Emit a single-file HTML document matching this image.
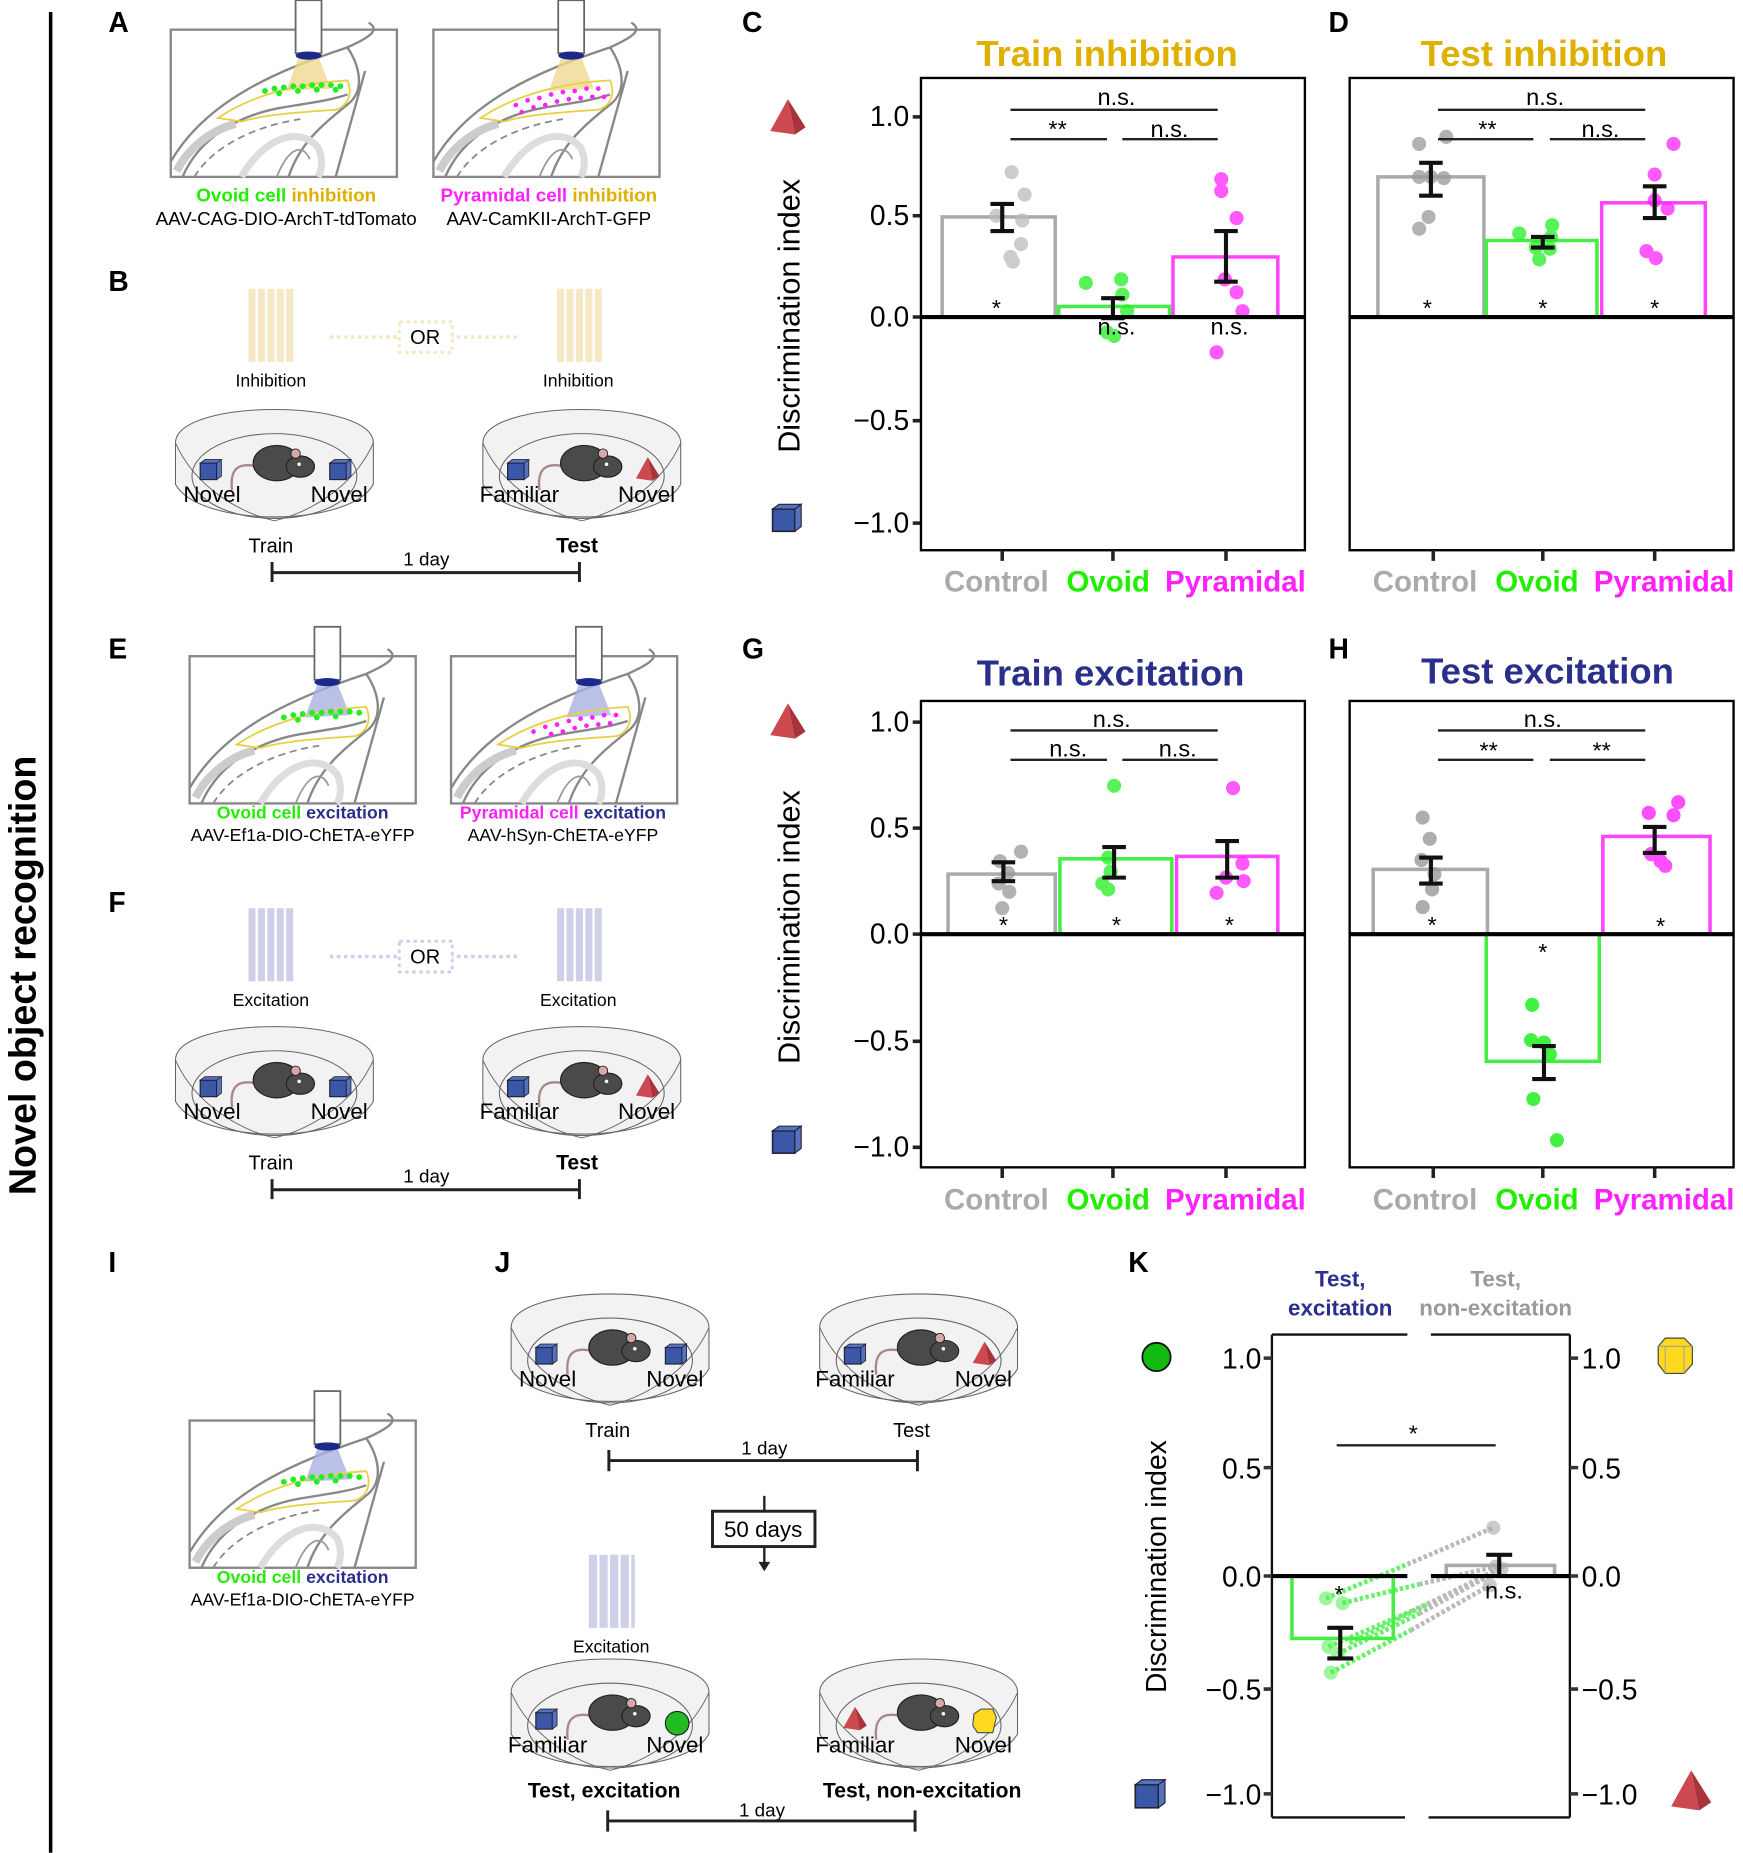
<!DOCTYPE html>
<html><head><meta charset="utf-8"><style>
html,body{margin:0;padding:0;background:#fff}
svg{display:block}
text{font-family:"Liberation Sans",sans-serif}
</style></head><body>
<svg width="1743" height="1853" viewBox="0 0 1480 1573" xmlns="http://www.w3.org/2000/svg">
<defs>
<g id="arena">
 <path d="M2,30 C2,-8 170,-8 170,30 L170,65 C150,102 22,102 2,65 Z" fill="#f2f2f2" stroke="#666" stroke-width="0.9"/>
 <ellipse cx="86" cy="58" rx="70" ry="36" fill="none" stroke="#666" stroke-width="0.9"/>
 <path d="M2,30 C20,70 60,90 86,96 M170,30 C152,70 112,90 86,96" fill="none" stroke="#666" stroke-width="0.8"/>
 <path d="M72,50 C55,46 48,52 50,70" fill="none" stroke="#a88" stroke-width="2"/>
 <ellipse cx="88" cy="47" rx="20" ry="15" fill="#4a4a4a" stroke="#222"/>
 <ellipse cx="108" cy="50" rx="12" ry="9" fill="#4a4a4a" stroke="#222"/>
 <circle cx="104" cy="39" r="4" fill="#d9a7a7" stroke="#222" stroke-width="0.8"/>
 <circle cx="107" cy="48" r="1.5" fill="#fff"/>
</g>
<g id="cube"><rect x="0" y="3" width="14" height="14" fill="#3b58a8" stroke="#223"/><path d="M0,3 L4,0 L18,0 L14,3 Z M14,3 L18,0 L18,14 L14,17 Z" fill="#5572c0" stroke="#223" stroke-width="0.7"/></g>
<g id="pyr"><path d="M10,0 L0,18 L14,20 Z" fill="#cc4a4f"/><path d="M10,0 L14,20 L20,16 Z" fill="#a8333a"/></g>
<g id="brain">
 <rect x="0" y="0" width="192" height="125" fill="#fff" stroke="#888" stroke-width="2"/>
 <path d="M0,112 C30,60 90,35 150,15 C170,6 178,0 168,-6" fill="none" stroke="#888" stroke-width="2"/>
 <path d="M150,15 C160,30 165,50 152,62 C130,80 110,95 100,125" fill="none" stroke="#888" stroke-width="2"/>
 <path d="M10,125 C25,90 60,72 95,66 C120,62 135,60 150,55" fill="none" stroke="#888" stroke-width="2"/>
 <path d="M20,125 C35,100 70,82 110,76" fill="none" stroke="#888" stroke-width="1.5" stroke-dasharray="6,4"/>
 <path d="M5,120 C15,100 35,85 55,80" fill="none" stroke="#ccc" stroke-width="7"/>
 <path d="M60,125 C80,90 110,82 125,100 C130,110 128,120 125,125" fill="none" stroke="#ddd" stroke-width="6"/>
 <path d="M90,125 C100,100 112,96 118,110" fill="none" stroke="#999" stroke-width="1.5"/>
 <path d="M165,35 C158,60 150,90 140,125" fill="none" stroke="#888" stroke-width="2"/>
</g>
</defs>

<line x1="43" y1="10" x2="43" y2="1573" stroke="#000" stroke-width="3"/>
<text transform="translate(30,828) rotate(-90)" text-anchor="middle" font-size="32" font-weight="bold">Novel object recognition</text>

<g font-size="24" font-weight="bold">
<text x="92" y="27">A</text><text x="92" y="247">B</text><text x="630" y="27">C</text><text x="1128" y="27">D</text>
<text x="92" y="559">E</text><text x="92" y="774">F</text><text x="630" y="559">G</text><text x="1128" y="559">H</text>
<text x="92" y="1080">I</text><text x="420" y="1080">J</text><text x="958" y="1080">K</text>
</g>

<g transform="translate(145,25)"><use href="#brain"/>
 <path d="M109,22 L125,22 L136,50 L98,52 Z" fill="#f0d890" opacity="0.8"/>
 <rect x="106" y="-25" width="22" height="45" fill="#fff" stroke="#666" stroke-width="1.5"/>
 <ellipse cx="117" cy="22" rx="11" ry="3.5" fill="#1a2a8a"/>
 <path d="M40,75 C70,55 110,45 150,43 C155,55 150,65 140,68 C110,70 80,72 60,78 Z" fill="none" stroke="#e8d040" stroke-width="1.5"/>
 <g fill="#22ee22"><circle cx="80" cy="52" r="2.5"/><circle cx="88" cy="50" r="2.5"/><circle cx="96" cy="49" r="2.5"/><circle cx="104" cy="48" r="2.5"/><circle cx="112" cy="48" r="2.5"/><circle cx="120" cy="47" r="2.5"/><circle cx="128" cy="47" r="2.5"/><circle cx="136" cy="47" r="2.5"/><circle cx="144" cy="48" r="2.5"/><circle cx="92" cy="54" r="2.5"/><circle cx="108" cy="52" r="2.5"/><circle cx="124" cy="51" r="2.5"/><circle cx="140" cy="51" r="2.5"/></g>
</g>
<g transform="translate(368,25)"><use href="#brain"/>
 <path d="M109,22 L125,22 L136,50 L98,52 Z" fill="#f0d890" opacity="0.8"/>
 <rect x="106" y="-25" width="22" height="45" fill="#fff" stroke="#666" stroke-width="1.5"/>
 <ellipse cx="117" cy="22" rx="11" ry="3.5" fill="#1a2a8a"/>
 <path d="M40,75 C70,55 110,45 150,43 C155,55 150,65 140,68 C110,70 80,72 60,78 Z" fill="none" stroke="#e8d040" stroke-width="1.5"/>
 <g fill="#ff22ff"><circle cx="70" cy="64" r="2"/><circle cx="80" cy="60" r="2"/><circle cx="90" cy="58" r="2"/><circle cx="100" cy="55" r="2"/><circle cx="110" cy="53" r="2"/><circle cx="120" cy="52" r="2"/><circle cx="130" cy="50" r="2"/><circle cx="140" cy="50" r="2"/><circle cx="85" cy="66" r="2"/><circle cx="95" cy="64" r="2"/><circle cx="105" cy="61" r="2"/><circle cx="115" cy="59" r="2"/><circle cx="125" cy="58" r="2"/><circle cx="135" cy="57" r="2"/><circle cx="145" cy="57" r="2"/><circle cx="75" cy="70" r="2"/></g>
</g>
<g font-size="16" text-anchor="middle">
<text x="243" y="171" font-weight="bold"><tspan fill="#22ee00">Ovoid cell</tspan> <tspan fill="#e0b000">inhibition</tspan></text>
<text x="243" y="191">AAV-CAG-DIO-ArchT-tdTomato</text>
<text x="466" y="171" font-weight="bold"><tspan fill="#ff22ff">Pyramidal cell</tspan> <tspan fill="#e0b000">inhibition</tspan></text>
<text x="466" y="191">AAV-CamKII-ArchT-GFP</text>
</g>

<g fill="#f5e8c4">
<rect x="211" y="245" width="6" height="62"/><rect x="219" y="245" width="6" height="62"/><rect x="227" y="245" width="6" height="62"/><rect x="235" y="245" width="6" height="62"/><rect x="243" y="245" width="6" height="62"/>
<rect x="473" y="245" width="6" height="62"/><rect x="481" y="245" width="6" height="62"/><rect x="489" y="245" width="6" height="62"/><rect x="497" y="245" width="6" height="62"/><rect x="505" y="245" width="6" height="62"/>
</g>
<line x1="280" y1="286" x2="442" y2="286" stroke="#f5e8c4" stroke-width="3" stroke-dasharray="3,3"/>
<rect x="339" y="273" width="45" height="26" fill="#fff" stroke="#f5e8c4" stroke-width="2.5" stroke-dasharray="3,3"/>
<text x="361" y="292" font-size="17" text-anchor="middle">OR</text>
<text x="230" y="328" font-size="15" text-anchor="middle">Inhibition</text>
<text x="491" y="328" font-size="15" text-anchor="middle">Inhibition</text>
<use href="#arena" x="147" y="346"/><use href="#arena" x="408" y="346"/>
<use href="#cube" x="170" y="390"/><use href="#cube" x="280" y="390"/><use href="#cube" x="431" y="390"/><use href="#pyr" x="540" y="388"/>
<g font-size="19" text-anchor="middle"><text x="180" y="426">Novel</text><text x="288" y="426">Novel</text><text x="441" y="426">Familiar</text><text x="549" y="426">Novel</text></g>
<text x="230" y="469" font-size="17" text-anchor="middle">Train</text>
<text x="490" y="469" font-size="18" text-anchor="middle" font-weight="bold">Test</text>
<text x="362" y="480" font-size="16" text-anchor="middle">1 day</text>
<path d="M231,486 H492 M231,477 V494 M492,477 V494" stroke="#222" stroke-width="2.5" fill="none"/>

<g transform="translate(161,557)"><use href="#brain"/>
 <path d="M109,22 L125,22 L136,50 L98,52 Z" fill="#aab0e0" opacity="0.8"/>
 <rect x="106" y="-25" width="22" height="45" fill="#fff" stroke="#666" stroke-width="1.5"/>
 <ellipse cx="117" cy="22" rx="11" ry="3.5" fill="#1a2a8a"/>
 <path d="M40,75 C70,55 110,45 150,43 C155,55 150,65 140,68 C110,70 80,72 60,78 Z" fill="none" stroke="#e8d040" stroke-width="1.5"/>
 <g fill="#22ee22"><circle cx="80" cy="52" r="2.5"/><circle cx="88" cy="50" r="2.5"/><circle cx="96" cy="49" r="2.5"/><circle cx="104" cy="48" r="2.5"/><circle cx="112" cy="48" r="2.5"/><circle cx="120" cy="47" r="2.5"/><circle cx="128" cy="47" r="2.5"/><circle cx="136" cy="47" r="2.5"/><circle cx="144" cy="48" r="2.5"/><circle cx="92" cy="54" r="2.5"/><circle cx="108" cy="52" r="2.5"/><circle cx="124" cy="51" r="2.5"/></g>
</g>
<g transform="translate(383,557)"><use href="#brain"/>
 <path d="M109,22 L125,22 L136,50 L98,52 Z" fill="#aab0e0" opacity="0.8"/>
 <rect x="106" y="-25" width="22" height="45" fill="#fff" stroke="#666" stroke-width="1.5"/>
 <ellipse cx="117" cy="22" rx="11" ry="3.5" fill="#1a2a8a"/>
 <path d="M40,75 C70,55 110,45 150,43 C155,55 150,65 140,68 C110,70 80,72 60,78 Z" fill="none" stroke="#e8d040" stroke-width="1.5"/>
 <g fill="#ff22ff"><circle cx="70" cy="64" r="2"/><circle cx="80" cy="60" r="2"/><circle cx="90" cy="58" r="2"/><circle cx="100" cy="55" r="2"/><circle cx="110" cy="53" r="2"/><circle cx="120" cy="52" r="2"/><circle cx="130" cy="50" r="2"/><circle cx="140" cy="50" r="2"/><circle cx="85" cy="66" r="2"/><circle cx="95" cy="64" r="2"/><circle cx="105" cy="61" r="2"/><circle cx="115" cy="59" r="2"/><circle cx="125" cy="58" r="2"/><circle cx="135" cy="57" r="2"/></g>
</g>
<g font-size="15" text-anchor="middle">
<text x="257" y="695" font-weight="bold"><tspan fill="#22ee00">Ovoid cell</tspan> <tspan fill="#2b2f8c">excitation</tspan></text>
<text x="257" y="714">AAV-Ef1a-DIO-ChETA-eYFP</text>
<text x="478" y="695" font-weight="bold"><tspan fill="#ff22ff">Pyramidal cell</tspan> <tspan fill="#2b2f8c">excitation</tspan></text>
<text x="478" y="714">AAV-hSyn-ChETA-eYFP</text>
</g>

<g fill="#cfd0e8">
<rect x="211" y="771" width="6" height="62"/><rect x="219" y="771" width="6" height="62"/><rect x="227" y="771" width="6" height="62"/><rect x="235" y="771" width="6" height="62"/><rect x="243" y="771" width="6" height="62"/>
<rect x="473" y="771" width="6" height="62"/><rect x="481" y="771" width="6" height="62"/><rect x="489" y="771" width="6" height="62"/><rect x="497" y="771" width="6" height="62"/><rect x="505" y="771" width="6" height="62"/>
</g>
<line x1="280" y1="812" x2="442" y2="812" stroke="#cfd0e8" stroke-width="3" stroke-dasharray="3,3"/>
<rect x="339" y="799" width="45" height="26" fill="#fff" stroke="#cfd0e8" stroke-width="2.5" stroke-dasharray="3,3"/>
<text x="361" y="818" font-size="17" text-anchor="middle">OR</text>
<text x="230" y="854" font-size="15" text-anchor="middle">Excitation</text>
<text x="491" y="854" font-size="15" text-anchor="middle">Excitation</text>
<use href="#arena" x="147" y="870"/><use href="#arena" x="408" y="870"/>
<use href="#cube" x="170" y="914"/><use href="#cube" x="280" y="914"/><use href="#cube" x="431" y="914"/><use href="#pyr" x="540" y="912"/>
<g font-size="19" text-anchor="middle"><text x="180" y="950">Novel</text><text x="288" y="950">Novel</text><text x="441" y="950">Familiar</text><text x="549" y="950">Novel</text></g>
<text x="230" y="993" font-size="17" text-anchor="middle">Train</text>
<text x="490" y="993" font-size="18" text-anchor="middle" font-weight="bold">Test</text>
<text x="362" y="1004" font-size="16" text-anchor="middle">1 day</text>
<path d="M231,1010 H492 M231,1001 V1018 M492,1001 V1018" stroke="#222" stroke-width="2.5" fill="none"/>

<g transform="translate(161,1206)"><use href="#brain"/>
 <path d="M109,22 L125,22 L136,50 L98,52 Z" fill="#aab0e0" opacity="0.8"/>
 <rect x="106" y="-25" width="22" height="45" fill="#fff" stroke="#666" stroke-width="1.5"/>
 <ellipse cx="117" cy="22" rx="11" ry="3.5" fill="#1a2a8a"/>
 <path d="M40,75 C70,55 110,45 150,43 C155,55 150,65 140,68 C110,70 80,72 60,78 Z" fill="none" stroke="#e8d040" stroke-width="1.5"/>
 <g fill="#22ee22"><circle cx="80" cy="52" r="2.5"/><circle cx="88" cy="50" r="2.5"/><circle cx="96" cy="49" r="2.5"/><circle cx="104" cy="48" r="2.5"/><circle cx="112" cy="48" r="2.5"/><circle cx="120" cy="47" r="2.5"/><circle cx="128" cy="47" r="2.5"/><circle cx="136" cy="47" r="2.5"/><circle cx="144" cy="48" r="2.5"/><circle cx="92" cy="54" r="2.5"/><circle cx="108" cy="52" r="2.5"/><circle cx="124" cy="51" r="2.5"/></g>
</g>
<g font-size="15" text-anchor="middle">
<text x="257" y="1344" font-weight="bold"><tspan fill="#22ee00">Ovoid cell</tspan> <tspan fill="#2b2f8c">excitation</tspan></text>
<text x="257" y="1363">AAV-Ef1a-DIO-ChETA-eYFP</text>
</g>

<use href="#arena" x="432" y="1097"/><use href="#arena" x="694" y="1097"/>
<use href="#cube" x="455" y="1141"/><use href="#cube" x="565" y="1141"/><use href="#cube" x="717" y="1141"/><use href="#pyr" x="826" y="1139"/>
<g font-size="19" text-anchor="middle"><text x="465" y="1177">Novel</text><text x="573" y="1177">Novel</text><text x="726" y="1177">Familiar</text><text x="835" y="1177">Novel</text></g>
<text x="516" y="1220" font-size="17" text-anchor="middle">Train</text>
<text x="774" y="1220" font-size="17" text-anchor="middle">Test</text>
<text x="649" y="1235" font-size="16" text-anchor="middle">1 day</text>
<path d="M517,1240 H779 M517,1231 V1249 M779,1231 V1249" stroke="#222" stroke-width="2.5" fill="none"/>
<path d="M649,1270 V1328" stroke="#222" stroke-width="2"/><path d="M644,1326 L654,1326 L649,1334 Z" fill="#222"/>
<rect x="605" y="1283" width="87" height="30" fill="#fff" stroke="#222" stroke-width="2.5"/>
<text x="648" y="1305" font-size="19" text-anchor="middle">50 days</text>
<g fill="#cfd0e8"><rect x="500" y="1320" width="7" height="62"/><rect x="509" y="1320" width="7" height="62"/><rect x="518" y="1320" width="7" height="62"/><rect x="527" y="1320" width="7" height="62"/><rect x="536" y="1320" width="3" height="62"/></g>
<text x="519" y="1403" font-size="15" text-anchor="middle">Excitation</text>
<use href="#arena" x="432" y="1407"/><use href="#arena" x="694" y="1407"/>
<use href="#cube" x="455" y="1451"/><circle cx="575" cy="1463" r="10" fill="#22bb22" stroke="#222"/>
<use href="#pyr" x="716" y="1449"/><path d="M827,1455 L833,1451 L843,1451 L846,1458 L843,1471 L830,1471 L826,1465 Z" fill="#ffd820" stroke="#555"/>
<g font-size="19" text-anchor="middle"><text x="465" y="1488">Familiar</text><text x="573" y="1488">Novel</text><text x="726" y="1488">Familiar</text><text x="835" y="1488">Novel</text></g>
<text x="513" y="1526" font-size="18" font-weight="bold" text-anchor="middle">Test, excitation</text>
<text x="783" y="1526" font-size="18" font-weight="bold" text-anchor="middle">Test, non-excitation</text>
<text x="647" y="1542" font-size="16" text-anchor="middle">1 day</text>
<path d="M516,1546 H777 M516,1537 V1555 M777,1537 V1555" stroke="#222" stroke-width="2.5" fill="none"/>

<g transform="translate(654,84) scale(1.5)"><use href="#pyr"/></g>
<g transform="translate(656,428) scale(1.35)"><use href="#cube"/></g>
<g transform="translate(654,597) scale(1.5)"><use href="#pyr"/></g>
<g transform="translate(656,956) scale(1.35)"><use href="#cube"/></g>

<!-- C -->
<text x="940" y="56" font-size="31" font-weight="bold" fill="#e0b000" text-anchor="middle">Train inhibition</text>
<text transform="translate(679,268) rotate(-90)" font-size="26" text-anchor="middle">Discrimination index</text>
<g font-size="24" text-anchor="end">
<text x="772" y="107">1.0</text><text x="772" y="191">0.5</text><text x="772" y="277">0.0</text><text x="772" y="365">−0.5</text><text x="772" y="452">−1.0</text>
</g>
<path d="M775,99 H782 M775,183 H782 M775,269 H782 M775,357 H782 M775,444 H782" stroke="#222" stroke-width="3"/>
<rect x="782" y="66" width="326" height="401" fill="none" stroke="#000" stroke-width="2"/>
<path d="M851,467 V476 M945,467 V476 M1041,467 V476" stroke="#222" stroke-width="3"/>
<rect x="800" y="184" width="96" height="85" fill="none" stroke="#aaa" stroke-width="3"/>
<rect x="899" y="260" width="94" height="9" fill="none" stroke="#44ee44" stroke-width="3"/>
<rect x="996" y="218" width="89" height="51" fill="none" stroke="#ff44ff" stroke-width="3"/>
<g fill="#bbb" opacity="0.75"><circle cx="859" cy="146" r="6"/><circle cx="870" cy="165" r="6"/><circle cx="868" cy="187" r="6"/><circle cx="846" cy="183" r="6"/><circle cx="867" cy="207" r="6"/><circle cx="860" cy="222" r="6"/><circle cx="858" cy="218" r="6"/></g>
<g fill="#22ee22" opacity="0.75"><circle cx="922" cy="240" r="6"/><circle cx="952" cy="237" r="6"/><circle cx="953" cy="250" r="6"/><circle cx="957" cy="264" r="6"/><circle cx="940" cy="282" r="6"/><circle cx="946" cy="285" r="6"/></g>
<g fill="#ff22ff" opacity="0.75"><circle cx="1037" cy="152" r="6"/><circle cx="1037" cy="162" r="6"/><circle cx="1050" cy="185" r="6"/><circle cx="1040" cy="237" r="6"/><circle cx="1050" cy="248" r="6"/><circle cx="1055" cy="264" r="6"/><circle cx="1033" cy="299" r="6"/></g>
<path d="M851,173 V196 M841,173 H861 M841,196 H861 M945,253 V270 M935,253 H955 M935,270 H955 M1041,196 V239 M1031,196 H1051 M1031,239 H1051" stroke="#111" stroke-width="3.5" fill="none"/>
<line x1="782" y1="269" x2="1108" y2="269" stroke="#000" stroke-width="3.5"/>
<g font-size="20" text-anchor="middle"><text x="846" y="268">*</text><text x="948" y="284">n.s.</text><text x="1044" y="284">n.s.</text>
<text x="948" y="89">n.s.</text><text x="898" y="116">**</text><text x="993" y="116">n.s.</text></g>
<path d="M858,93 H1034 M858,118 H940 M953,118 H1034" stroke="#222" stroke-width="2"/>
<g font-size="25" font-weight="bold" text-anchor="middle"><text x="846" y="502" fill="#aaa">Control</text><text x="941" y="502" fill="#22ee00">Ovoid</text><text x="1049" y="502" fill="#ff22ff">Pyramidal</text></g>

<!-- D -->
<text x="1311" y="56" font-size="31" font-weight="bold" fill="#e0b000" text-anchor="middle">Test inhibition</text>
<rect x="1146" y="66" width="326" height="401" fill="none" stroke="#000" stroke-width="2"/>
<path d="M1217,467 V476 M1310,467 V476 M1405,467 V476" stroke="#222" stroke-width="3"/>
<rect x="1170" y="150" width="90" height="119" fill="none" stroke="#aaa" stroke-width="3"/>
<rect x="1262" y="204" width="94" height="65" fill="none" stroke="#44ee44" stroke-width="3"/>
<rect x="1360" y="172" width="88" height="97" fill="none" stroke="#ff44ff" stroke-width="3"/>
<g fill="#999" opacity="0.75"><circle cx="1205" cy="122" r="6"/><circle cx="1228" cy="116" r="6"/><circle cx="1205" cy="150" r="6"/><circle cx="1226" cy="151" r="6"/><circle cx="1215" cy="150" r="6"/><circle cx="1213" cy="184" r="6"/><circle cx="1205" cy="194" r="6"/></g>
<g fill="#22ee22" opacity="0.75"><circle cx="1290" cy="198" r="6"/><circle cx="1318" cy="191" r="6"/><circle cx="1317" cy="201" r="6"/><circle cx="1304" cy="210" r="6"/><circle cx="1316" cy="211" r="6"/><circle cx="1307" cy="220" r="6"/></g>
<g fill="#ff22ff" opacity="0.75"><circle cx="1421" cy="122" r="6"/><circle cx="1405" cy="148" r="6"/><circle cx="1416" cy="177" r="6"/><circle cx="1405" cy="170" r="6"/><circle cx="1398" cy="213" r="6"/><circle cx="1406" cy="219" r="6"/></g>
<path d="M1215,138 V166 M1205,138 H1225 M1205,166 H1225 M1310,201 V210 M1300,201 H1320 M1300,210 H1320 M1405,158 V185 M1395,158 H1415 M1395,185 H1415" stroke="#111" stroke-width="3.5" fill="none"/>
<line x1="1146" y1="269" x2="1472" y2="269" stroke="#000" stroke-width="3.5"/>
<g font-size="20" text-anchor="middle"><text x="1212" y="268">*</text><text x="1310" y="268">*</text><text x="1405" y="268">*</text>
<text x="1312" y="89">n.s.</text><text x="1263" y="116">**</text><text x="1359" y="116">n.s.</text></g>
<path d="M1221,93 H1397 M1221,118 H1302 M1316,118 H1397" stroke="#222" stroke-width="2"/>
<g font-size="25" font-weight="bold" text-anchor="middle"><text x="1210" y="502" fill="#aaa">Control</text><text x="1305" y="502" fill="#22ee00">Ovoid</text><text x="1413" y="502" fill="#ff22ff">Pyramidal</text></g>

<!-- G -->
<text x="943" y="582" font-size="31" font-weight="bold" fill="#2b2f8c" text-anchor="middle">Train excitation</text>
<text transform="translate(679,787) rotate(-90)" font-size="26" text-anchor="middle">Discrimination index</text>
<g font-size="24" text-anchor="end">
<text x="772" y="621">1.0</text><text x="772" y="711">0.5</text><text x="772" y="801">0.0</text><text x="772" y="892">−0.5</text><text x="772" y="982">−1.0</text>
</g>
<path d="M775,613 H782 M775,703 H782 M775,793 H782 M775,884 H782 M775,974 H782" stroke="#222" stroke-width="3"/>
<rect x="782" y="595" width="326" height="396" fill="none" stroke="#000" stroke-width="2"/>
<path d="M851,991 V1000 M945,991 V1000 M1041,991 V1000" stroke="#222" stroke-width="3"/>
<rect x="805" y="742" width="91" height="51" fill="none" stroke="#aaa" stroke-width="3"/>
<rect x="900" y="729" width="95" height="64" fill="none" stroke="#44ee44" stroke-width="3"/>
<rect x="999" y="727" width="86" height="66" fill="none" stroke="#ff44ff" stroke-width="3"/>
<g fill="#999" opacity="0.75"><circle cx="867" cy="723" r="6"/><circle cx="849" cy="731" r="6"/><circle cx="856" cy="741" r="6"/><circle cx="848" cy="750" r="6"/><circle cx="857" cy="757" r="6"/><circle cx="851" cy="771" r="6"/></g>
<g fill="#22ee22" opacity="0.75"><circle cx="946" cy="667" r="6"/><circle cx="941" cy="728" r="6"/><circle cx="943" cy="740" r="6"/><circle cx="936" cy="750" r="6"/><circle cx="941" cy="755" r="6"/></g>
<g fill="#ff22ff" opacity="0.75"><circle cx="1047" cy="669" r="6"/><circle cx="1055" cy="733" r="6"/><circle cx="1041" cy="745" r="6"/><circle cx="1056" cy="748" r="6"/><circle cx="1033" cy="758" r="6"/></g>
<path d="M852,732 V748 M842,732 H862 M842,748 H862 M946,719 V745 M936,719 H956 M936,745 H956 M1042,714 V745 M1032,714 H1052 M1032,745 H1052" stroke="#111" stroke-width="3.5" fill="none"/>
<line x1="782" y1="793" x2="1108" y2="793" stroke="#000" stroke-width="3.5"/>
<g font-size="20" text-anchor="middle"><text x="852" y="792">*</text><text x="948" y="792">*</text><text x="1044" y="792">*</text>
<text x="944" y="617">n.s.</text><text x="907" y="642">n.s.</text><text x="1000" y="642">n.s.</text></g>
<path d="M858,620 H1034 M858,645 H940 M953,645 H1034" stroke="#222" stroke-width="2"/>
<g font-size="25" font-weight="bold" text-anchor="middle"><text x="846" y="1027" fill="#aaa">Control</text><text x="941" y="1027" fill="#22ee00">Ovoid</text><text x="1049" y="1027" fill="#ff22ff">Pyramidal</text></g>

<!-- H -->
<text x="1314" y="580" font-size="31" font-weight="bold" fill="#2b2f8c" text-anchor="middle">Test excitation</text>
<rect x="1146" y="595" width="326" height="396" fill="none" stroke="#000" stroke-width="2"/>
<path d="M1217,991 V1000 M1310,991 V1000 M1405,991 V1000" stroke="#222" stroke-width="3"/>
<rect x="1166" y="738" width="97" height="55" fill="none" stroke="#aaa" stroke-width="3"/>
<rect x="1262" y="793" width="96" height="108" fill="none" stroke="#44ee44" stroke-width="3"/>
<rect x="1361" y="710" width="91" height="83" fill="none" stroke="#ff44ff" stroke-width="3"/>
<g fill="#999" opacity="0.8"><circle cx="1208" cy="694" r="6"/><circle cx="1214" cy="712" r="6"/><circle cx="1207" cy="730" r="6"/><circle cx="1218" cy="742" r="6"/><circle cx="1216" cy="755" r="6"/><circle cx="1208" cy="770" r="6"/></g>
<g fill="#22ee22" opacity="0.85"><circle cx="1301" cy="853" r="6"/><circle cx="1300" cy="883" r="6"/><circle cx="1311" cy="885" r="6"/><circle cx="1316" cy="895" r="6"/><circle cx="1302" cy="933" r="6"/><circle cx="1322" cy="968" r="6"/></g>
<g fill="#ff22ff" opacity="0.8"><circle cx="1425" cy="681" r="6"/><circle cx="1421" cy="692" r="6"/><circle cx="1400" cy="690" r="6"/><circle cx="1402" cy="725" r="6"/><circle cx="1410" cy="731" r="6"/><circle cx="1414" cy="735" r="6"/></g>
<path d="M1215,728 V750 M1205,728 H1225 M1205,750 H1225 M1311,888 V916 M1301,888 H1321 M1301,916 H1321 M1405,702 V724 M1395,702 H1415 M1395,724 H1415" stroke="#111" stroke-width="3.5" fill="none"/>
<line x1="1146" y1="793" x2="1472" y2="793" stroke="#000" stroke-width="3.5"/>
<g font-size="20" text-anchor="middle"><text x="1216" y="792">*</text><text x="1310" y="815">*</text><text x="1410" y="793">*</text>
<text x="1310" y="617">n.s.</text><text x="1264" y="644">**</text><text x="1360" y="644">**</text></g>
<path d="M1221,620 H1397 M1221,645 H1302 M1316,645 H1397" stroke="#222" stroke-width="2"/>
<g font-size="25" font-weight="bold" text-anchor="middle"><text x="1210" y="1027" fill="#aaa">Control</text><text x="1305" y="1027" fill="#22ee00">Ovoid</text><text x="1413" y="1027" fill="#ff22ff">Pyramidal</text></g>

<!-- K -->
<g font-size="19" font-weight="bold" text-anchor="middle">
<text x="1138" y="1092" fill="#2b2f8c">Test,</text><text x="1138" y="1117" fill="#2b2f8c">excitation</text>
<text x="1270" y="1092" fill="#999">Test,</text><text x="1270" y="1117" fill="#999">non-excitation</text></g>
<text transform="translate(990,1330) rotate(-90)" font-size="24" text-anchor="middle">Discrimination index</text>
<path d="M1080,1133 H1195 M1215,1133 H1333 M1080,1543 H1193 M1213,1543 H1333 M1080,1133 V1543 M1333,1133 V1543" stroke="#111" stroke-width="2" fill="none"/>
<path d="M1073,1153 H1080 M1073,1246 H1080 M1073,1338 H1080 M1073,1434 H1080 M1073,1523 H1080 M1333,1153 H1340 M1333,1246 H1340 M1333,1338 H1340 M1333,1434 H1340 M1333,1523 H1340" stroke="#333" stroke-width="3"/>
<g font-size="24" text-anchor="end"><text x="1071" y="1162">1.0</text><text x="1071" y="1255">0.5</text><text x="1071" y="1347">0.0</text><text x="1071" y="1443">−0.5</text><text x="1071" y="1532">−1.0</text></g>
<g font-size="24"><text x="1343" y="1162">1.0</text><text x="1343" y="1255">0.5</text><text x="1343" y="1347">0.0</text><text x="1343" y="1443">−0.5</text><text x="1343" y="1532">−1.0</text></g>
<rect x="1097" y="1338" width="86" height="53" fill="none" stroke="#44ee44" stroke-width="3"/>
<rect x="1228" y="1329" width="92" height="9" fill="none" stroke="#aaa" stroke-width="3"/>
<g stroke-width="4" stroke-dasharray="3,2" fill="none" opacity="0.8">
<path d="M1126,1357 L1195,1328" stroke="#44ee44"/><path d="M1195,1328 L1268,1297" stroke="#aaa"/>
<path d="M1140,1361 L1205,1345" stroke="#44ee44"/><path d="M1205,1345 L1270,1330" stroke="#aaa"/>
<path d="M1128,1398 L1198,1368" stroke="#44ee44"/><path d="M1198,1368 L1268,1336" stroke="#aaa"/>
<path d="M1136,1404 L1205,1370" stroke="#44ee44"/><path d="M1205,1370 L1275,1332" stroke="#aaa"/>
<path d="M1130,1420 L1198,1384" stroke="#44ee44"/><path d="M1198,1384 L1265,1346" stroke="#aaa"/>
<path d="M1146,1395 L1212,1362" stroke="#44ee44"/><path d="M1212,1362 L1280,1328" stroke="#aaa"/>
</g>
<g fill="#44ee44" opacity="0.5"><circle cx="1126" cy="1357" r="6"/><circle cx="1140" cy="1361" r="6"/><circle cx="1128" cy="1398" r="6"/><circle cx="1136" cy="1404" r="6"/><circle cx="1130" cy="1420" r="6"/></g>
<g fill="#aaa" opacity="0.6"><circle cx="1268" cy="1297" r="6"/><circle cx="1270" cy="1330" r="6"/><circle cx="1275" cy="1332" r="6"/><circle cx="1265" cy="1346" r="6"/></g>
<path d="M1138,1382 V1408 M1127,1382 H1149 M1127,1408 H1149 M1273,1320 V1339 M1262,1320 H1284" stroke="#111" stroke-width="3.5" fill="none"/>
<path d="M1080,1338 H1195 M1215,1338 H1333" stroke="#000" stroke-width="3.5"/>
<path d="M1135,1227 H1270" stroke="#222" stroke-width="2"/>
<g font-size="20" text-anchor="middle"><text x="1200" y="1224">*</text><text x="1137" y="1360">*</text><text x="1277" y="1357">n.s.</text></g>
<circle cx="982" cy="1152" r="12" fill="#11bb11" stroke="#111" stroke-width="1.5"/>
<path d="M1408,1143 L1414,1136 L1430,1136 L1437,1143 L1437,1158 L1430,1166 L1414,1166 L1408,1158 Z" fill="#ffd820" stroke="#444"/>
<path d="M1408,1143 H1437 M1414,1143 V1166 M1430,1143 V1166" stroke="#aa8" stroke-width="1"/>
<g transform="translate(964,1511) scale(1.4)"><use href="#cube"/></g>
<g transform="translate(1419,1503) scale(1.7)"><use href="#pyr"/></g>
</svg>
</body></html>
